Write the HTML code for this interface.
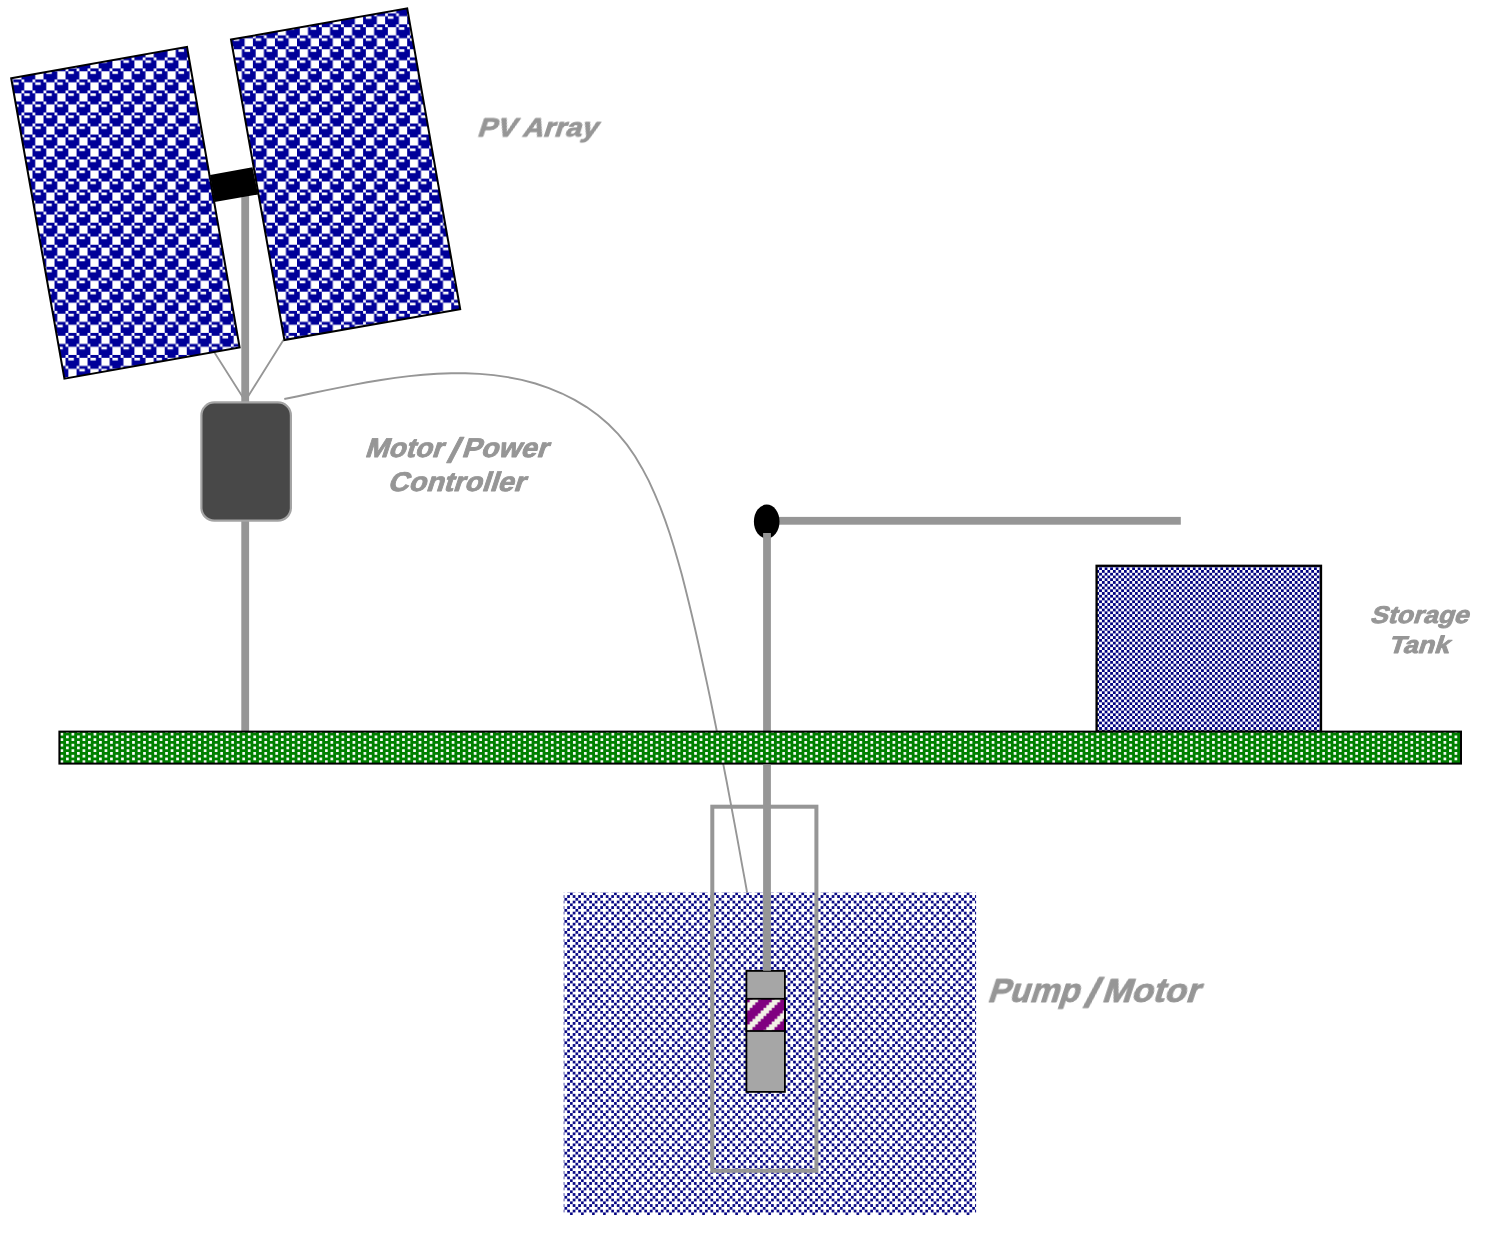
<!DOCTYPE html>
<html><head><meta charset="utf-8"><title>Solar pumping system</title>
<style>html,body{margin:0;padding:0;background:#fff;overflow:hidden}svg{display:block}</style>
</head><body>
<svg width="1500" height="1248" viewBox="0 0 1500 1248">
<defs><pattern id="pSphere" width="8" height="8" patternUnits="userSpaceOnUse" patternTransform="translate(10.46,2.3) scale(2.755)"><rect width="8" height="8" fill="#000099"/><path d="M0,0h1v1h-1zM4,0h1v1h-1zM1,1h3v1h-3zM5,1h2v1h-2zM1,2h3v1h-3zM1,3h3v1h-3zM0,4h1v1h-1zM4,4h1v1h-1zM1,5h2v1h-2zM5,5h3v1h-3zM5,6h3v1h-3zM5,7h3v1h-3z" fill="#ffffff"/></pattern><pattern id="pCheck" width="2" height="2" patternUnits="userSpaceOnUse" patternTransform="translate(1099.15,567.3) scale(2.755)"><rect width="2" height="2" fill="#000080"/><path d="M1,0h1v1h-1zM0,1h1v1h-1z" fill="#ffffff"/></pattern><pattern id="pGround" width="4" height="2" patternUnits="userSpaceOnUse" patternTransform="translate(60.49,732.75) scale(2.755)"><rect width="4" height="2" fill="#008000"/><path d="M0.025,0.025h0.95v0.95h-0.95zM2.02,1.02h0.95v0.95h-0.95z" fill="#ffffff"/></pattern><pattern id="pWater" width="4" height="4" patternUnits="userSpaceOnUse" patternTransform="translate(564.43,892.38) scale(2.755,2.759)"><rect width="4" height="4" fill="#ffffff"/><path d="M2.03,0.03h0.94v0.94h-0.94zM1.03,1.03h0.94v0.94h-0.94zM3.03,1.03h0.94v0.94h-0.94zM0.03,2.03h0.94v0.94h-0.94zM1.03,3.03h0.94v0.94h-0.94zM3.03,3.03h0.94v0.94h-0.94z" fill="#000080"/></pattern><pattern id="pDiag" width="8" height="8" patternUnits="userSpaceOnUse" patternTransform="translate(752.5,999.5) scale(2.755)"><rect width="8" height="8" fill="#800080"/><path d="M0,0h2v1h-2zM7,0h1v1h-1zM0,1h1v1h-1zM6,1h2v1h-2zM5,2h3v1h-3zM4,3h3v1h-3zM3,4h3v1h-3zM2,5h3v1h-3zM1,6h3v1h-3zM0,7h3v1h-3z" fill="#f2f2e6"/></pattern></defs>
<rect width="1500" height="1248" fill="#ffffff"/>
<!-- water -->
<rect x="563.7" y="892.4" width="412.4" height="322.6" fill="url(#pWater)"/>
<!-- cable -->
<path d="M284.3,399.0 L298.0,396.2 L311.7,393.3 L325.5,390.4 L339.3,387.6 L353.2,384.9 L367.1,382.3 L381.0,380.0 L395.0,377.9 L409.1,376.1 L423.1,374.7 L437.2,373.7 L451.3,373.2 L465.4,373.2 L479.5,373.9 L493.7,375.1 L507.7,377.1 L521.7,379.9 L535.4,383.5 L548.9,388.1 L562.0,393.5 L574.6,399.9 L586.6,407.1 L598.0,415.2 L608.5,424.3 L618.2,434.2 L627.1,444.9 L635.0,456.3 L642.2,468.4 L648.8,480.9 L654.7,493.8 L660.2,507.0 L665.2,520.4 L669.8,533.8 L674.0,547.3 L678.0,560.9 L681.8,574.6 L685.3,588.3 L688.7,602.0 L692.0,615.7 L695.2,629.5 L698.3,643.3 L701.3,657.0 L704.3,670.8 L707.3,684.6 L710.2,698.4 L713.0,712.2 L715.8,726.0 L718.5,739.8 L721.3,753.6 L723.9,767.5 L726.6,781.3 L729.2,795.2 L731.8,809.0 L734.4,822.9 L737.0,836.8 L739.5,850.7 L742.0,864.6 L744.6,878.6 L747.1,892.5" fill="none" stroke="#969696" stroke-width="1.9"/>
<!-- thin wires -->
<path d="M214.3,352.2 L245.2,401 M283.6,339.8 L245.2,401" fill="none" stroke="#969696" stroke-width="1.8"/>
<!-- pole -->
<rect x="241.3" y="185" width="7.8" height="546" fill="#969696"/>
<!-- black connector -->
<polygon points="210.0,174.9 252.5,167.2 258.1,194.5 214.5,202.1" fill="#000"/>
<!-- panels -->
<polygon points="11.2,78.2 187.0,46.8 239.6,347.4 64.4,378.7" fill="url(#pSphere)" stroke="#000" stroke-width="2" stroke-linejoin="miter"/>
<polygon points="231.0,39.6 407.2,8.3 460.2,309.3 284.4,340.0" fill="url(#pSphere)" stroke="#000" stroke-width="2" stroke-linejoin="miter"/>
<!-- controller -->
<rect x="201.4" y="402.4" width="89.5" height="118.3" rx="13" ry="13" fill="#484848" stroke="#a4a4a4" stroke-width="2.2"/>
<!-- tank -->
<rect x="1096.6" y="565.8" width="224.4" height="166" fill="url(#pCheck)" stroke="#000" stroke-width="2.3"/>
<!-- horizontal pipe -->
<rect x="770" y="516.9" width="410.8" height="7.8" fill="#969696"/>
<!-- elbow -->
<ellipse cx="766.7" cy="521.6" rx="12.8" ry="17.0" fill="#000"/>
<!-- vertical pipe (upper) -->
<rect x="763.1" y="533" width="7.8" height="220" fill="#969696"/>
<!-- ground -->
<rect x="59.4" y="731.6" width="1401.6" height="32" fill="url(#pGround)" stroke="#000" stroke-width="2"/>
<!-- casing -->
<rect x="712.3" y="806.7" width="104.1" height="364.1" fill="none" stroke="#969696" stroke-width="4"/>
<!-- pump -->
<rect x="746.4" y="970.9" width="38.5" height="121.0" fill="#a6a6a6" stroke="#000" stroke-width="1.8"/>
<rect x="746.4" y="998.8" width="38.5" height="32.2" fill="url(#pDiag)" stroke="#000" stroke-width="1.8"/>
<!-- vertical pipe (lower) -->
<rect x="763.1" y="764.6" width="7.8" height="206.2" fill="#969696"/>
<!-- labels -->
<g font-family="'Liberation Sans', sans-serif" font-weight="bold" fill="#969696" stroke="#969696" stroke-width="0.9" stroke-linejoin="round" opacity="0.999">
<text transform="translate(476.7,136.8) skewX(-18)" font-size="27.1" textLength="119.6" lengthAdjust="spacingAndGlyphs">PV Array</text>
<text transform="translate(0,457.0) skewX(-18)" font-size="27.1"><tspan x="364.5" textLength="77.8" lengthAdjust="spacingAndGlyphs">Motor</tspan><tspan x="447.9" dy="4.5" font-size="34.4" textLength="9.9" lengthAdjust="spacingAndGlyphs">/</tspan><tspan x="461.3" dy="-4.5" textLength="85.8" lengthAdjust="spacingAndGlyphs">Power</tspan></text>
<text transform="translate(387.3,490.7) skewX(-18)" font-size="27.1" textLength="136.9" lengthAdjust="spacingAndGlyphs">Controller</text>
<text transform="translate(1369.6,623.1) skewX(-18)" font-size="24.1" textLength="98.5" lengthAdjust="spacingAndGlyphs">Storage</text>
<text transform="translate(1387.8,652.5) skewX(-18)" font-size="24.1" textLength="60.6" lengthAdjust="spacingAndGlyphs">Tank</text>
<text transform="translate(0,1001.7) skewX(-18)" font-size="32.7"><tspan x="986.9" textLength="91.4" lengthAdjust="spacingAndGlyphs">Pump</tspan><tspan x="1084.5" dy="5.5" font-size="41.2" textLength="12.3" lengthAdjust="spacingAndGlyphs">/</tspan><tspan x="1101.5" dy="-5.5" textLength="97.1" lengthAdjust="spacingAndGlyphs">Motor</tspan></text>
</g>
</svg>
</body></html>
